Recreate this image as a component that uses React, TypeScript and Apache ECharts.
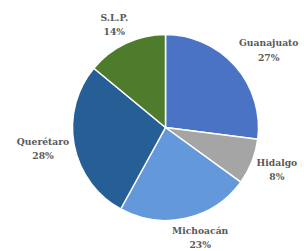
import React, { useEffect, useRef } from "react";
import * as echarts from "echarts";

const categories = ["Guanajuato", "Hidalgo", "Michoacán", "Querétaro", "S.L.P."];
const shares = [27, 8, 23, 28, 14];
const colors = ["#4A73C5", "#A5A5A5", "#6398DA", "#265E96", "#4F7B2C"];

const CX = 165.5;
const CY = 127.5;
const R = 93;
const GAP = 5;

export default function App() {
  const ref = useRef<HTMLDivElement>(null);
  useEffect(() => {
    document.body.style.margin = "0";
    const chart = echarts.init(ref.current!, null, { renderer: "svg" });
    const total = shares.reduce((a, b) => a + b, 0);
    const mids: number[] = [];
    let acc = 0;
    shares.forEach((v) => {
      mids.push(((acc + v / 2) / total) * Math.PI * 2);
      acc += v;
    });
    chart.setOption({
      animation: false,
      series: [
        {
          type: "pie",
          center: [CX, CY],
          radius: [0, R],
          startAngle: 90,
          clockwise: true,
          avoidLabelOverlap: false,
          itemStyle: { borderColor: "#ffffff", borderWidth: 1.5 },
          label: {
            show: true,
            position: "outside",
            formatter: (p: any) => `${p.name}\n${p.value}%`,
            color: "#595959",
            fontFamily: "DejaVu Serif",
            fontWeight: "bold",
            fontSize: 9.2,
            lineHeight: 14.5,
            align: "center",
          },
          labelLine: { show: false },
          labelLayout: (params: any) => {
            const a = mids[params.dataIndex];
            const ux = Math.sin(a);
            const uy = -Math.cos(a);
            const m = Math.max(Math.abs(ux), Math.abs(uy));
            const hw = params.labelRect.width / 2;
            const hh = params.labelRect.height / 2;
            return {
              x: CX + ux * (R + GAP) + hw * Math.sign(ux) * Math.sqrt(Math.abs(ux) / m),
              y: CY + uy * (R + GAP) + hh * (uy / m),
              align: "center",
              verticalAlign: "middle",
            };
          },
          data: categories.map((c, i) => ({
            name: c,
            value: shares[i],
            itemStyle: { color: colors[i] },
          })),
        },
      ],
    });
    return () => chart.dispose();
  }, []);
  return <div ref={ref} style={{ width: 304, height: 251 }} />;
}
